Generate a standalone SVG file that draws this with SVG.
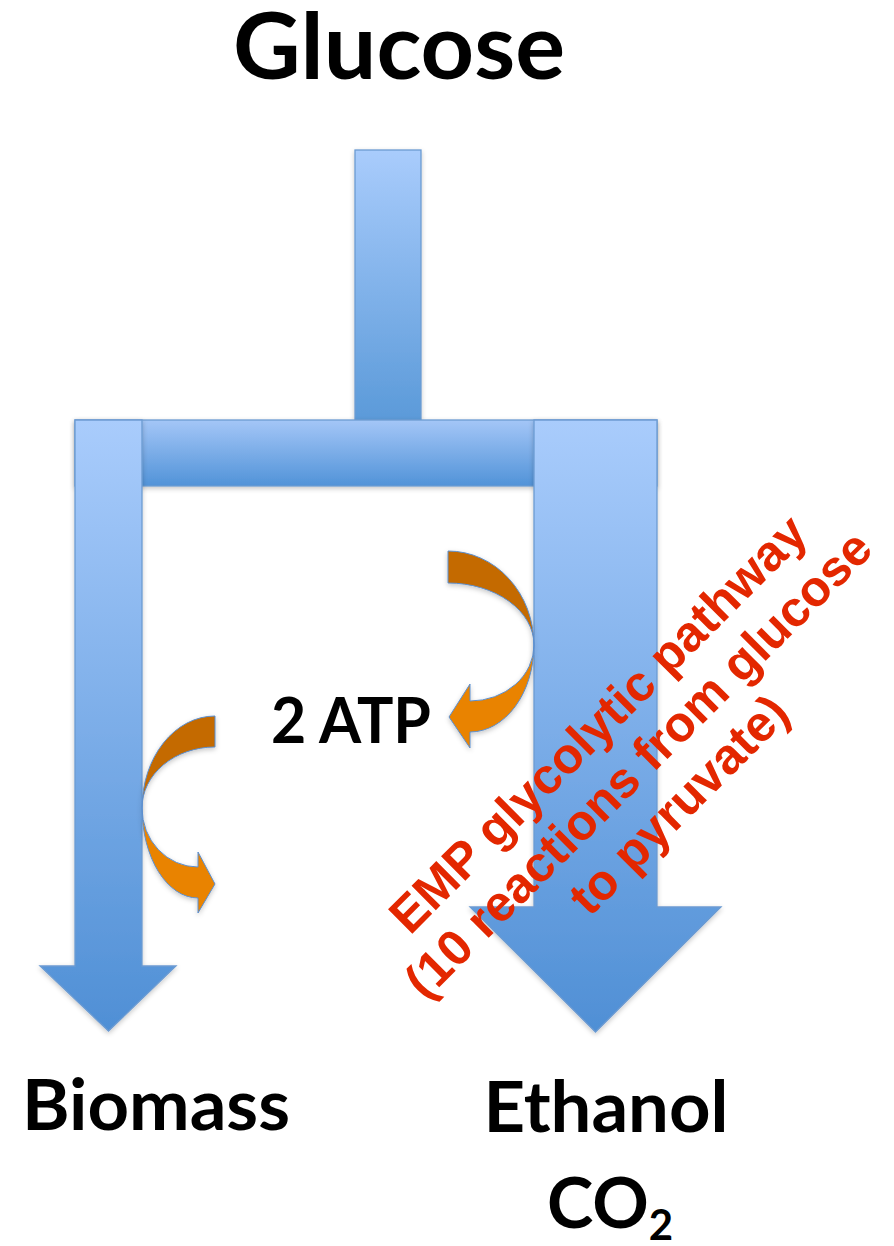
<svg xmlns="http://www.w3.org/2000/svg" width="894" height="1246" viewBox="0 0 894 1246">
  <defs>
    <linearGradient id="gStem" x1="0" y1="0" x2="0" y2="1">
      <stop offset="0" stop-color="#a9ccfc"/>
      <stop offset="1" stop-color="#5b9ad9"/>
    </linearGradient>
    <linearGradient id="gBar" x1="0" y1="0" x2="0" y2="1">
      <stop offset="0" stop-color="#a4c6f7"/>
      <stop offset="1" stop-color="#5193d8"/>
    </linearGradient>
    <linearGradient id="gArrow" x1="0" y1="0" x2="0" y2="1">
      <stop offset="0" stop-color="#a9ccfc"/>
      <stop offset="1" stop-color="#4f8fd5"/>
    </linearGradient>
    <filter id="shadow" x="-20%" y="-20%" width="140%" height="140%">
      <feDropShadow dx="0" dy="2" stdDeviation="2.5" flood-color="#000" flood-opacity="0.22"/>
    </filter>
    <style>
      .flow { stroke: #6c9bd2; stroke-width: 1.3; filter: url(#shadow); }
      .dark { fill: #c46a00; stroke: #5b8fd0; stroke-width: 1; }
      .light { fill: #e98300; stroke: #5b8fd0; stroke-width: 1; }
      .lbl { font-family: Lato, "Open Sans", "Liberation Sans", sans-serif; font-weight: bold; fill: #000; }
      .red { font-family: "Liberation Sans", Arial, sans-serif; font-weight: bold; fill: #e32700; font-size: 50px; text-anchor: middle; }
    </style>
  </defs>

  <g id="connectors">
    <rect id="stem" class="flow" x="355" y="150" width="66" height="270" fill="url(#gStem)"/>
    <rect id="bar" class="flow" x="75" y="420" width="582" height="66" fill="url(#gBar)"/>
    <path id="flow-biomass" class="flow" fill="url(#gArrow)" d="M75,420 L142,420 L142,966 L176,966 L108.5,1031 L40,966 L75,966 Z"/>
    <path id="flow-ethanol" class="flow" fill="url(#gArrow)" d="M534,420 L657,420 L657,907 L721,907 L595.5,1032 L470,907 L534,907 Z"/>
    <g id="atp-out" filter="url(#shadow)">
      <path class="dark" d="M448,551 A86,94 0 0 1 534,645 A86,62 0 0 0 448,583 Z"/>
      <path class="light" d="M534,645 A64,87 0 0 1 470,732 L470,748 L449,717 L470,684 L470,701 A64,56 0 0 0 534,645 Z"/>
    </g>
    <g id="atp-in" filter="url(#shadow)">
      <path class="dark" d="M215,716 A73,92 0 0 0 142,808 A73,61 0 0 1 215,747 Z"/>
      <path class="light" d="M142,808 A56,90 0 0 0 198,898 L198,913 L215,884 L198,852 L198,867 A56,59 0 0 1 142,808 Z"/>
    </g>
  </g>

  <g id="node-glucose">
    <text class="lbl" x="399" y="79" font-size="91" text-anchor="middle" textLength="332" lengthAdjust="spacingAndGlyphs">Glucose</text>
  </g>
  <g id="node-atp">
    <text class="lbl" x="351" y="743" font-size="63" text-anchor="middle" textLength="160" lengthAdjust="spacingAndGlyphs">2 ATP</text>
  </g>
  <g id="node-biomass">
    <text class="lbl" x="156" y="1130" font-size="70" text-anchor="middle" textLength="268" lengthAdjust="spacingAndGlyphs">Biomass</text>
  </g>
  <g id="node-ethanol">
    <text class="lbl" x="606" y="1132" font-size="70" text-anchor="middle" textLength="245" lengthAdjust="spacingAndGlyphs">Ethanol</text>
    <text class="lbl" x="547" y="1228" font-size="70">CO<tspan font-size="42" dy="12">2</tspan></text>
  </g>
  <g id="label-emp" transform="translate(610,736) rotate(-45)">
    <text class="red" x="0" y="0">EMP glycolytic pathway</text>
    <text class="red" x="0" y="57">(10 reactions from glucose</text>
    <text class="red" x="0" y="114">to pyruvate)</text>
  </g>
</svg>
